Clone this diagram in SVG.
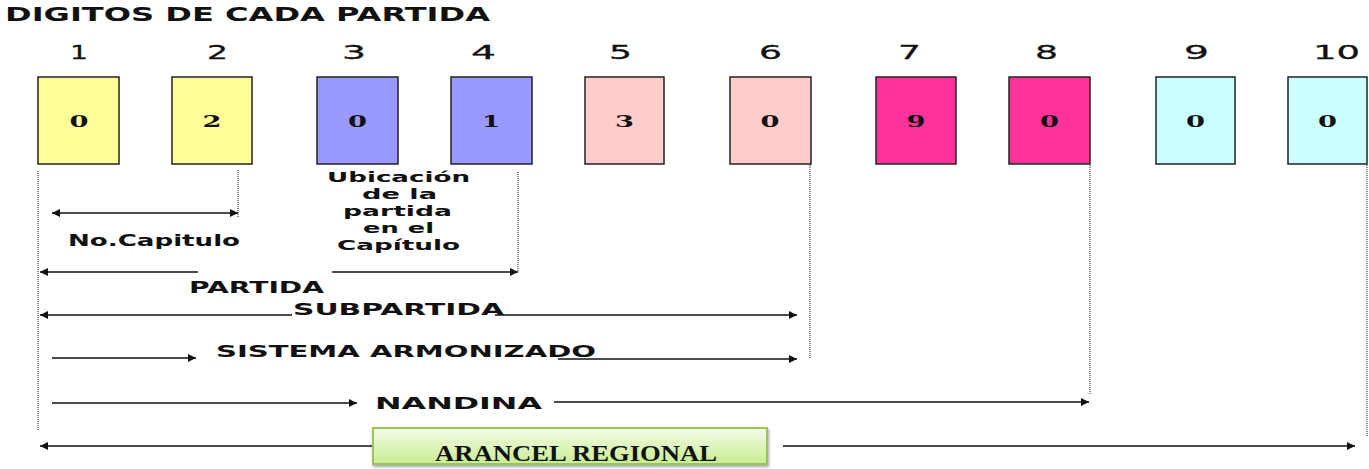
<svg xmlns="http://www.w3.org/2000/svg" width="1369" height="469" viewBox="0 0 1369 469">
<style>
.title{font-family:"DejaVu Sans",Verdana,sans-serif;font-weight:bold;font-size:19px;fill:#111}
.num{font-family:"DejaVu Sans",Verdana,sans-serif;font-size:20px;fill:#111;stroke:#111;stroke-width:0.3}
.dig{font-family:"DejaVu Serif","Liberation Serif",serif;font-weight:bold;font-size:16px;fill:#111}
.lbl{font-family:"DejaVu Sans",Verdana,sans-serif;font-weight:bold;font-size:16px;fill:#111}
.ub{font-family:"DejaVu Sans",Verdana,sans-serif;font-weight:bold;font-size:14.5px;fill:#111}
.box{stroke:#222;stroke-width:1.5}
.y{fill:#ffff99}.p{fill:#9999ff}.k{fill:#ffcccc}.m{fill:#ff3399}.c{fill:#ccffff}
.dot{stroke:#666;stroke-width:1.5;stroke-dasharray:1 1;fill:none}
.arr{stroke:#111;stroke-width:1.6;fill:none}
.ar2{font-family:"Liberation Serif","Times New Roman",serif;font-weight:bold;font-size:23px;fill:#111}
</style>
<defs>
<marker id="ah" viewBox="0 0 10 10" refX="10" refY="5" markerWidth="11" markerHeight="8" markerUnits="userSpaceOnUse" orient="auto-start-reverse">
<path d="M0,0 L10,5 L0,10 z" fill="#111"/>
</marker>
<linearGradient id="gr" x1="0" y1="0" x2="0" y2="1">
<stop offset="0" stop-color="#f4fde8"/>
<stop offset="1" stop-color="#c8ec92"/>
</linearGradient>
<filter id="sh" x="-5%" y="-20%" width="110%" height="150%">
<feDropShadow dx="1" dy="2" stdDeviation="1.5" flood-color="#000" flood-opacity="0.35"/>
</filter>
</defs>
<rect width="1369" height="469" fill="#fff"/>
<text class="title" x="5" y="21" textLength="485" lengthAdjust="spacingAndGlyphs">DIGITOS DE CADA PARTIDA</text>

<g id="d1"><text class="num" x="70" y="59" textLength="18" lengthAdjust="spacingAndGlyphs">1</text><rect class="box y" x="38" y="77" width="81" height="87"/><text class="dig" x="69.5" y="127" textLength="19" lengthAdjust="spacingAndGlyphs">0</text></g>
<g id="d2"><text class="num" x="207" y="59" textLength="21" lengthAdjust="spacingAndGlyphs">2</text><rect class="box y" x="172" y="77" width="80" height="87"/><text class="dig" x="202.5" y="127" textLength="19" lengthAdjust="spacingAndGlyphs">2</text></g>
<g id="d3"><text class="num" x="342" y="59" textLength="24" lengthAdjust="spacingAndGlyphs">3</text><rect class="box p" x="317" y="77" width="81" height="87"/><text class="dig" x="348" y="127" textLength="19" lengthAdjust="spacingAndGlyphs">0</text></g>
<g id="d4"><text class="num" x="471" y="59" textLength="25" lengthAdjust="spacingAndGlyphs">4</text><rect class="box p" x="451" y="77" width="81" height="87"/><text class="dig" x="482" y="127" textLength="18" lengthAdjust="spacingAndGlyphs">1</text></g>
<g id="d5"><text class="num" x="609" y="59" textLength="23" lengthAdjust="spacingAndGlyphs">5</text><rect class="box k" x="585" y="77" width="79" height="87"/><text class="dig" x="615" y="127" textLength="19" lengthAdjust="spacingAndGlyphs">3</text></g>
<g id="d6"><text class="num" x="759" y="59" textLength="23" lengthAdjust="spacingAndGlyphs">6</text><rect class="box k" x="730" y="77" width="81" height="87"/><text class="dig" x="760.5" y="127" textLength="19" lengthAdjust="spacingAndGlyphs">0</text></g>
<g id="d7"><text class="num" x="898" y="59" textLength="23" lengthAdjust="spacingAndGlyphs">7</text><rect class="box m" x="876" y="77" width="80" height="87"/><text class="dig" x="906.5" y="127" textLength="19" lengthAdjust="spacingAndGlyphs">9</text></g>
<g id="d8"><text class="num" x="1035" y="59" textLength="23" lengthAdjust="spacingAndGlyphs">8</text><rect class="box m" x="1009" y="77" width="81" height="87"/><text class="dig" x="1040" y="127" textLength="19" lengthAdjust="spacingAndGlyphs">0</text></g>
<g id="d9"><text class="num" x="1184" y="59" textLength="25" lengthAdjust="spacingAndGlyphs">9</text><rect class="box c" x="1156" y="77" width="79" height="87"/><text class="dig" x="1186" y="127" textLength="19" lengthAdjust="spacingAndGlyphs">0</text></g>
<g id="d10"><text class="num" x="1313" y="59" textLength="47" lengthAdjust="spacingAndGlyphs">10</text><rect class="box c" x="1288" y="77" width="79" height="87"/><text class="dig" x="1318" y="127" textLength="19" lengthAdjust="spacingAndGlyphs">0</text></g>

<g id="connectors">
<line class="dot" x1="38" y1="171" x2="38" y2="431"/>
<line class="dot" x1="238" y1="170" x2="238" y2="218"/>
<line class="dot" x1="518" y1="172" x2="518" y2="272"/>
<line class="dot" x1="810" y1="165" x2="810" y2="358"/>
<line class="dot" x1="1090" y1="165" x2="1090" y2="395"/>
<line class="dot" x1="1367" y1="165" x2="1367" y2="437"/>

<path class="arr" d="M52,213 H238" marker-start="url(#ah)" marker-end="url(#ah)"/>
<path class="arr" d="M198,272 H40" marker-end="url(#ah)"/>
<path class="arr" d="M332,272 H518" marker-end="url(#ah)"/>
<path class="arr" d="M292,315 H40" marker-end="url(#ah)"/>
<path class="arr" d="M495,315 H797" marker-end="url(#ah)"/>
<path class="arr" d="M52,358 H196" marker-end="url(#ah)"/>
<path class="arr" d="M558,359 H797" marker-end="url(#ah)"/>
<path class="arr" d="M52,403 H357" marker-end="url(#ah)"/>
<path class="arr" d="M554,402 H1089" marker-end="url(#ah)"/>
<path class="arr" d="M373,446 H40" marker-end="url(#ah)"/>
<path class="arr" d="M783,446 H1355" marker-end="url(#ah)"/>
</g>

<g id="labels">
<text class="lbl" x="68" y="246" textLength="172" lengthAdjust="spacingAndGlyphs">No.Capitulo</text>
<text class="ub" x="327" y="182" textLength="143" lengthAdjust="spacingAndGlyphs">Ubicación</text>
<text class="ub" x="362" y="199" textLength="75" lengthAdjust="spacingAndGlyphs">de la</text>
<text class="ub" x="343" y="216" textLength="109" lengthAdjust="spacingAndGlyphs">partida</text>
<text class="ub" x="363" y="233" textLength="71" lengthAdjust="spacingAndGlyphs">en el</text>
<text class="ub" x="337" y="250" textLength="123" lengthAdjust="spacingAndGlyphs">Capítulo</text>
<text class="lbl" x="189" y="293" textLength="135" lengthAdjust="spacingAndGlyphs">PARTIDA</text>
<text class="lbl" x="293" y="315" textLength="211" lengthAdjust="spacingAndGlyphs">SUBPARTIDA</text>
<text class="lbl" x="216" y="357" textLength="380" lengthAdjust="spacingAndGlyphs">SISTEMA ARMONIZADO</text>
<text class="lbl" x="375" y="409" textLength="167" lengthAdjust="spacingAndGlyphs">NANDINA</text>
</g>

<g id="arancel">
<rect x="373" y="428" width="394" height="36" fill="url(#gr)" stroke="#9cc45c" stroke-width="2" filter="url(#sh)"/>
<text class="ar2" x="435" y="461" textLength="282" lengthAdjust="spacingAndGlyphs">ARANCEL REGIONAL</text>
</g>
</svg>
